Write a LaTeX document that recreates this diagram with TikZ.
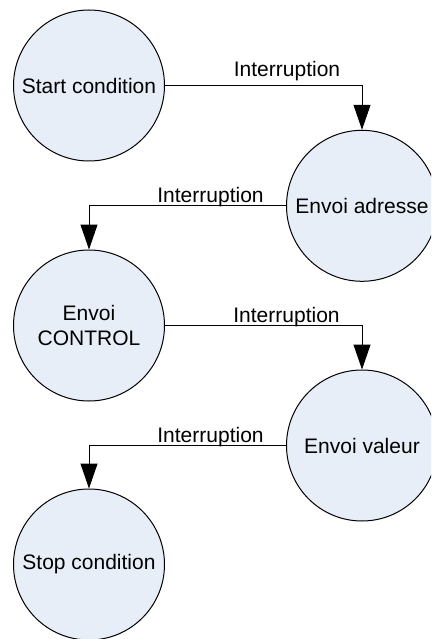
\documentclass[tikz,border=0pt]{standalone}
\usepackage{fontspec}
\setmainfont{Liberation Sans}
\usetikzlibrary{arrows.meta}
\definecolor{statefill}{RGB}{232,238,248}
\begin{document}
\begin{tikzpicture}[x=1pt,y=-1pt,
  state/.style={circle, draw=black, line width=1pt, fill=statefill, inner sep=0pt,
    minimum size=151pt, align=center, font=\fontsize{21}{25}\selectfont},
  lbl/.style={anchor=base, inner sep=0pt, font=\fontsize{21}{25}\selectfont},
  conn/.style={draw=black, line width=1pt, -{Triangle[length=25pt,width=17pt]}}]
\useasboundingbox (0,0) rectangle (431,639);
\clip (0,0) rectangle (431,639);
\node[state] (s1) at (89,85.5) {Start condition};
\node[state] (s2) at (362,205.8) {Envoi adresse};
\node[state] (s3) at (89,325.5) {Envoi\\CONTROL};
\node[state] (s4) at (362,445.5) {Envoi valeur};
\node[state] (s5) at (89,564.5) {Stop condition};
\draw[conn] (s1.east) -| (s2.north);
\draw[conn] (s2.west) -| (s3.north);
\draw[conn] (s3.east) -| (s4.north);
\draw[conn] (s4.west) -| (s5.north);
\node[lbl] (l1) at (287,77) {Interruption};
\node[lbl] (l2) at (210.5,202) {Interruption};
\node[lbl] (l3) at (286.5,322) {Interruption};
\node[lbl] (l4) at (210.5,442) {Interruption};
\end{tikzpicture}
\end{document}
